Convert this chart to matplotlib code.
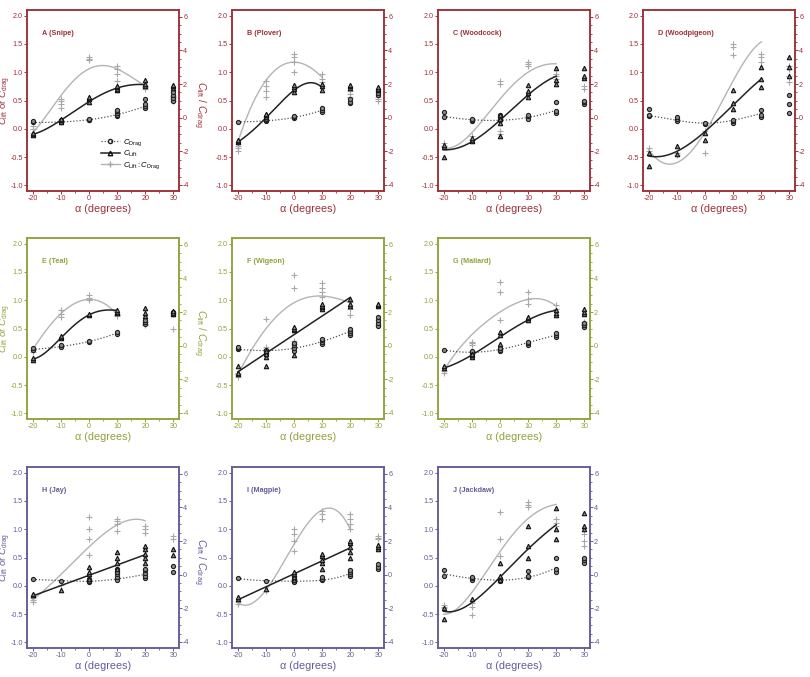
import numpy as np
import matplotlib
matplotlib.use("Agg")
import matplotlib.pyplot as plt
from matplotlib.ticker import MultipleLocator, FormatStrFormatter

plt.rcParams["font.family"] = ["Liberation Sans", "DejaVu Sans"]
plt.rcParams["mathtext.fontset"] = "custom"
plt.rcParams["mathtext.rm"] = "Liberation Sans"
plt.rcParams["mathtext.it"] = "Liberation Sans:italic"
plt.rcParams["mathtext.bf"] = "Liberation Sans:bold"
plt.rcParams["axes.unicode_minus"] = False

ALPHA = [-20, -10, 0, 10, 20, 30]

RED = "#9e3038"
GREEN = "#8ea43c"
PURPLE = "#675a98"

# ---------------- A (Snipe) ----------------
A_DRAG = [[0.12, 0.13], [0.12, 0.14, 0.15], [0.15, 0.16, 0.17], [0.22, 0.25, 0.28, 0.31, 0.33],
          [0.37, 0.40, 0.43, 0.52], [0.50, 0.55, 0.60, 0.65]]
A_LIFT = [[-0.11, -0.09, -0.08], [0.12, 0.15, 0.17], [0.47, 0.52, 0.55, 0.57], [0.68, 0.71, 0.73, 0.75],
          [0.75, 0.80, 0.87], [0.72, 0.75, 0.78]]
A_RATIO = [[-0.9, -0.7, -0.5], [0.6, 0.8, 1.0, 1.1], [3.4, 3.5, 3.6], [2.2, 2.6, 2.9, 3.1],
           [1.7, 1.8, 1.9], [1.0, 1.1, 1.2, 1.3]]
A_DRAG_FIT = [[-20, -10, 0, 10, 20], [0.11, 0.12, 0.16, 0.25, 0.40]]
A_LIFT_FIT = [[-20, -10, 0, 10, 20], [-0.10, 0.15, 0.48, 0.72, 0.78]]
A_RATIO_FIT = [[-20, -10, 0, 10, 20], [-0.9, 1.3, 2.9, 2.9, 1.9]]

# ---------------- B (Plover) ----------------
B_DRAG = [[0.12], [0.13, 0.15, 0.18, 0.20], [0.19, 0.21, 0.23], [0.30, 0.33, 0.36],
          [0.45, 0.48, 0.52], [0.60, 0.64, 0.68]]
B_LIFT = [[-0.24, -0.22, -0.20], [0.20, 0.24, 0.27], [0.65, 0.70, 0.74, 0.78], [0.68, 0.75, 0.80],
          [0.72, 0.75, 0.78], [0.68, 0.71, 0.74]]
B_RATIO = [[-2.0, -1.8, -1.7], [1.2, 1.6, 1.9, 2.2], [2.7, 3.3, 3.6, 3.8], [2.1, 2.3, 2.6],
           [1.2, 1.4, 1.6], [1.0, 1.1, 1.2]]
B_DRAG_FIT = [[-20, -10, 0, 10], [0.12, 0.14, 0.20, 0.33]]
B_LIFT_FIT = [[-20, -10, 0, 5, 10], [-0.24, 0.19, 0.68, 0.81, 0.73]]
B_RATIO_FIT = [[-20, -10, 0, 10], [-1.5, 2.2, 3.3, 2.4]]

# ---------------- C (Woodcock) ----------------
C_DRAG = [[0.20, 0.30], [0.13, 0.15, 0.17], [0.15, 0.20, 0.25], [0.18, 0.22, 0.25],
          [0.28, 0.32, 0.48], [0.43, 0.47, 0.50]]
C_LIFT = [[-0.50, -0.32, -0.28], [-0.22, -0.19, -0.17], [-0.13, 0.10, 0.18, 0.25], [0.57, 0.63, 0.67, 0.77],
          [0.80, 0.87, 1.08], [0.90, 0.93, 1.08]]
C_RATIO = [[-1.7, -1.5], [-1.3, -1.1], [-1.0, -0.8, 2.0, 2.2], [3.1, 3.2, 3.3],
           [2.3, 2.5, 2.6], [1.7, 1.9]]
C_DRAG_FIT = [[-20, -10, 0, 10, 20], [0.22, 0.16, 0.15, 0.20, 0.33]]
C_LIFT_FIT = [[-20, -10, 0, 10, 20], [-0.37, -0.23, 0.15, 0.60, 0.93]]
C_RATIO_FIT = [[-20, -10, 0, 10, 20], [-1.8, -0.9, 1.1, 2.7, 3.2]]

# ---------------- D (Woodpigeon) ----------------
D_DRAG = [[0.23, 0.24, 0.35], [0.13, 0.17, 0.20], [0.08, 0.10], [0.10, 0.13, 0.16],
          [0.20, 0.25, 0.33], [0.28, 0.43, 0.60]]
D_LIFT = [[-0.65, -0.43], [-0.45, -0.30], [-0.20, -0.08], [0.35, 0.45, 0.68],
          [0.73, 0.88, 1.10], [0.93, 1.10, 1.27]]
D_RATIO = [[-2.0, -1.8], [-2.2, -2.1], [-2.1, -0.8], [3.7, 4.2, 4.4],
           [3.3, 3.6, 3.8], [2.1, 2.5, 2.9, 3.1]]
D_DRAG_FIT = [[-20, -10, 0, 10, 20], [0.23, 0.15, 0.10, 0.15, 0.27]]
D_LIFT_FIT = [[-20, -10, 0, 10, 20], [-0.48, -0.40, -0.05, 0.42, 0.88]]
D_RATIO_FIT = [[-20, -14, -10, 0, 10, 20], [-1.9, -2.8, -2.6, -0.9, 2.2, 4.5]]

# ---------------- E (Teal) ----------------
E_DRAG = [[0.12, 0.15], [0.18, 0.20], [0.26, 0.28], [0.40, 0.43],
          [0.58, 0.62, 0.65], [0.75, 0.78, 0.80]]
E_LIFT = [[-0.05, -0.03], [0.33, 0.35, 0.37], [0.73, 0.75], [0.78, 0.80, 0.83],
          [0.72, 0.78, 0.87], [0.75, 0.78, 0.81]]
E_RATIO = [[-0.35, -0.25], [1.7, 1.9, 2.1], [2.7, 2.85, 3.0], [1.75, 1.85, 1.9],
           [1.2, 1.3, 1.4], [1.0]]
E_DRAG_FIT = [[-20, -10, 0, 10], [0.13, 0.18, 0.27, 0.42]]
E_LIFT_FIT = [[-20, -10, 0, 5, 10], [-0.04, 0.33, 0.74, 0.82, 0.82]]
E_RATIO_FIT = [[-20, -10, 0, 10], [-0.25, 1.9, 2.75, 1.85]]

# ---------------- F (Wigeon) ----------------
F_DRAG = [[0.13, 0.15, 0.17], [0.05, 0.08, 0.10, 0.12], [0.10, 0.15, 0.20, 0.25], [0.22, 0.26, 0.29, 0.32],
          [0.38, 0.42, 0.46, 0.50], [0.55, 0.60, 0.65, 0.70]]
F_LIFT = [[-0.30, -0.28, -0.17], [-0.17, 0.0, 0.05, 0.10], [0.03, 0.48, 0.50, 0.52], [0.85, 0.88, 0.90, 0.93],
          [0.90, 0.93, 1.03], [0.90, 0.92, 0.93]]
F_RATIO = [[-1.85, -1.7, -1.6], [-0.25, -0.1, 1.6], [-0.1, 0.1, 0.3, 3.4, 4.2], [2.9, 3.2, 3.4, 3.7],
           [1.8, 2.2, 2.6], [1.2]]
F_DRAG_FIT = [[-20, -10, 0, 10, 20], [0.13, 0.11, 0.15, 0.27, 0.45]]
F_LIFT_FIT = [[-20, 20], [-0.27, 1.05]]
F_RATIO_FIT = [[-20, -10, 0, 10, 20], [-1.75, 1.0, 2.55, 2.95, 2.55]]

# ---------------- G (Mallard) ----------------
G_DRAG = [[0.12], [0.05, 0.08, 0.10], [0.10, 0.12, 0.15], [0.20, 0.24, 0.27],
          [0.35, 0.38, 0.42], [0.52, 0.56, 0.60]]
G_LIFT = [[-0.20, -0.17], [0.0, 0.03, 0.05], [0.22, 0.38, 0.43], [0.65, 0.68, 0.70],
          [0.73, 0.78, 0.82], [0.75, 0.80, 0.85]]
G_RATIO = [[-1.6, -1.5], [0.05, 0.15, 0.2], [1.55, 3.2, 3.8], [2.5, 2.8, 3.2],
           [2.2, 2.4], [1.2, 1.3, 1.4]]
G_DRAG_FIT = [[-20, -10, 0, 10, 20], [0.12, 0.08, 0.13, 0.25, 0.38]]
G_LIFT_FIT = [[-20, -10, 0, 10, 20], [-0.20, 0.03, 0.35, 0.65, 0.82]]
G_RATIO_FIT = [[-20, -10, 0, 10, 20], [-1.5, 0.65, 2.0, 2.75, 2.35]]

# ---------------- H (Jay) ----------------
H_DRAG = [[0.12], [0.08], [0.07, 0.09, 0.12], [0.10, 0.15, 0.20, 0.25, 0.30],
          [0.13, 0.18, 0.23, 0.28, 0.30], [0.25, 0.35]]
H_LIFT = [[-0.17, -0.15], [-0.07], [0.12, 0.20, 0.25, 0.33], [0.30, 0.40, 0.50, 0.60],
          [0.40, 0.50, 0.57, 0.65, 0.70], [0.55, 0.65]]
H_RATIO = [[-1.6, -1.5, -1.4], [-0.6], [1.15, 2.1, 2.7, 3.4], [2.6, 3.0, 3.2, 3.3],
           [2.5, 2.7, 2.9], [2.1, 2.3]]
H_DRAG_FIT = [[-20, -10, 0, 10, 20], [0.11, 0.09, 0.08, 0.12, 0.20]]
H_LIFT_FIT = [[-20, 20], [-0.18, 0.55]]
H_RATIO_FIT = [[-20, -10, 0, 10, 17, 20], [-1.5, 0.0, 1.65, 2.95, 3.3, 3.2]]

# ---------------- I (Magpie) ----------------
I_DRAG = [[0.13], [0.08], [0.07, 0.10, 0.12, 0.15], [0.10, 0.12, 0.15],
          [0.17, 0.20, 0.24, 0.28], [0.30, 0.34, 0.38]]
I_LIFT = [[-0.23, -0.20], [-0.05], [0.10, 0.15, 0.20, 0.25], [0.30, 0.40, 0.45, 0.52, 0.57],
          [0.50, 0.60, 0.68, 0.75, 0.80], [0.65, 0.68, 0.72]]
I_RATIO = [[-1.75, -1.65], [-1.0], [1.4, 2.0, 2.4, 2.7], [3.3, 3.6, 3.8],
           [2.7, 3.0, 3.3, 3.6], [2.1, 2.2, 2.3]]
I_DRAG_FIT = [[-20, -10, 0, 10, 20], [0.13, 0.09, 0.08, 0.10, 0.22]]
I_LIFT_FIT = [[-20, 20], [-0.25, 0.67]]
I_RATIO_FIT = [[-20, -15, -10, 0, 10, 13, 20], [-1.65, -1.75, -0.9, 1.8, 3.8, 4.0, 2.7]]

# ---------------- J (Jackdaw) ----------------
J_DRAG = [[0.18, 0.28], [0.10, 0.13, 0.15], [0.08, 0.10, 0.12], [0.15, 0.18, 0.27],
          [0.25, 0.30, 0.50], [0.40, 0.45, 0.50]]
J_LIFT = [[-0.58, -0.40], [-0.23], [0.10, 0.18, 0.40], [0.50, 0.70, 1.05],
          [0.82, 1.00, 1.38], [1.00, 1.05, 1.28]]
J_RATIO = [[-2.0, -1.9, -1.8], [-2.4, -1.9, -1.7], [1.1, 2.1, 3.7], [4.0, 4.15, 4.3],
           [2.9, 3.1, 3.3], [1.7, 2.0, 2.4]]
J_DRAG_FIT = [[-20, -10, 0, 10, 20], [0.21, 0.13, 0.10, 0.15, 0.32]]
J_LIFT_FIT = [[-20, -10, 0, 10, 20], [-0.45, -0.30, 0.15, 0.65, 1.08]]
J_RATIO_FIT = [[-20, -10, 0, 10, 17, 20], [-2.35, -1.1, 1.45, 3.2, 4.2, 4.1]]

PANELS = [
    ("A (Snipe)", RED, 0, 0, A_DRAG, A_LIFT, A_RATIO, A_DRAG_FIT, A_LIFT_FIT, A_RATIO_FIT),
    ("B (Plover)", RED, 0, 1, B_DRAG, B_LIFT, B_RATIO, B_DRAG_FIT, B_LIFT_FIT, B_RATIO_FIT),
    ("C (Woodcock)", RED, 0, 2, C_DRAG, C_LIFT, C_RATIO, C_DRAG_FIT, C_LIFT_FIT, C_RATIO_FIT),
    ("D (Woodpigeon)", RED, 0, 3, D_DRAG, D_LIFT, D_RATIO, D_DRAG_FIT, D_LIFT_FIT, D_RATIO_FIT),
    ("E (Teal)", GREEN, 1, 0, E_DRAG, E_LIFT, E_RATIO, E_DRAG_FIT, E_LIFT_FIT, E_RATIO_FIT),
    ("F (Wigeon)", GREEN, 1, 1, F_DRAG, F_LIFT, F_RATIO, F_DRAG_FIT, F_LIFT_FIT, F_RATIO_FIT),
    ("G (Mallard)", GREEN, 1, 2, G_DRAG, G_LIFT, G_RATIO, G_DRAG_FIT, G_LIFT_FIT, G_RATIO_FIT),
    ("H (Jay)", PURPLE, 2, 0, H_DRAG, H_LIFT, H_RATIO, H_DRAG_FIT, H_LIFT_FIT, H_RATIO_FIT),
    ("I (Magpie)", PURPLE, 2, 1, I_DRAG, I_LIFT, I_RATIO, I_DRAG_FIT, I_LIFT_FIT, I_RATIO_FIT),
    ("J (Jackdaw)", PURPLE, 2, 2, J_DRAG, J_LIFT, J_RATIO, J_DRAG_FIT, J_LIFT_FIT, J_RATIO_FIT),
]

W, H = 810, 677
COL_LEFT = [27, 232, 438, 643]
ROW_TOP = [10, 238, 467]
AX_W, AX_H = 152, 181

GRAY_PT = "#a8a8a8"
GRAY_LN = "#b4b4b4"


def smooth(fit):
    xs, ys = np.asarray(fit[0], float), np.asarray(fit[1], float)
    deg = min(len(xs) - 1, 4)
    coef = np.polyfit(xs, ys, deg)
    xx = np.linspace(xs.min(), xs.max(), 200)
    return xx, np.polyval(coef, xx)


def scatter(ax, groups, **kw):
    xs, ys = [], []
    for a, vals in zip(ALPHA, groups):
        xs += [a] * len(vals)
        ys += vals
    ax.plot(xs, ys, linestyle="none", **kw)


fig = plt.figure(figsize=(W / 100, H / 100), dpi=100)
fig.patch.set_facecolor("white")

DOT = (0, (1, 1.5))

for (title, col, r, c, drag, lift, ratio, dfit, lfit, rfit) in PANELS:
    l, t = COL_LEFT[c], ROW_TOP[r]
    ax = fig.add_axes([l / W, 1 - (t + AX_H) / H, AX_W / W, AX_H / H])
    ax2 = ax.twinx()
    ax.set_zorder(ax2.get_zorder() + 1)
    ax.patch.set_visible(False)

    ax.set_xlim(-22, 32)
    ax.set_ylim(-1.1, 2.1)
    ax2.set_ylim(-4.36, 6.4)

    # ratio (right axis)
    xx, yy = smooth(rfit)
    ax2.plot(xx, yy, color=GRAY_LN, lw=1.0)
    scatter(ax2, ratio, marker="+", color=GRAY_PT, ms=4.0, mew=0.8)

    # drag & lift (left axis)
    xx, yy = smooth(dfit)
    ax.plot(xx, yy, color="#555555", lw=0.9, ls=DOT)
    xx, yy = smooth(lfit)
    ax.plot(xx, yy, color="#222222", lw=1.1)
    scatter(ax, drag, marker="o", mfc="#8a8a8a", mec="#222222", ms=3.0, mew=0.8)
    scatter(ax, lift, marker="^", mfc="#8a8a8a", mec="#111111", ms=3.2, mew=0.8)

    for a in (ax, ax2):
        for s in a.spines.values():
            s.set_color(col)
            s.set_linewidth(1.1)
        a.tick_params(colors=col, labelsize=5.2, length=2.0, width=0.7,
                      direction="out", pad=1.0)
        a.tick_params(which="minor", colors=col, length=1.6, width=0.6)

    ax.xaxis.set_major_locator(MultipleLocator(10))
    ax.xaxis.set_minor_locator(MultipleLocator(5))
    ax.set_yticks(np.arange(-1.0, 2.01, 0.5))
    ax2.yaxis.set_minor_locator(MultipleLocator(0.5))
    ax2.set_yticks(np.arange(-4, 6.01, 2))
    ax.yaxis.set_major_formatter(FormatStrFormatter("%.1f"))
    ax2.yaxis.set_major_formatter(FormatStrFormatter("%d"))

    ax.set_xlabel("\u03b1 (degrees)", color=col, fontsize=7.8, labelpad=1)
    ax.text(0.10, 0.87, title, transform=ax.transAxes, color=col,
            fontsize=5.2, fontweight="bold", ha="left", va="center")

    if c == 0:
        ax.text(-0.136, 0.5, r"$C_{\rm lift}$ or $C_{\rm drag}$", transform=ax.transAxes,
                color=col, fontsize=6.8, rotation=90, ha="center", va="center")
        ax.text(1.135, 0.48, r"$C_{\rm lift}$ / $C_{\rm drag}$", transform=ax.transAxes,
                color=col, fontsize=7.4, rotation=270, ha="center", va="center")

    if title.startswith("A"):
        h1, = ax.plot([], [], color="#555555", lw=0.9, ls=DOT, marker="o",
                      mfc="none", mec="#222222", ms=3.0)
        h2, = ax.plot([], [], color="#222222", lw=1.1, marker="^", mfc="none",
                      mec="#111111", ms=3.2)
        h3, = ax.plot([], [], color=GRAY_LN, lw=1.0, marker="+", mec=GRAY_PT, ms=4.0)
        ax.legend([h1, h2, h3], [r"$C_{\rm Drag}$", r"$C_{\rm Lift}$",
                                 r"$C_{\rm Lift}:C_{\rm Drag}$"],
                  loc="lower left", bbox_to_anchor=(0.45, 0.08), frameon=False,
                  fontsize=5.6, handlelength=2.4, handletextpad=0.5,
                  labelspacing=0.15, borderpad=0.2)

fig.savefig("out.png", dpi=100, facecolor="white")
